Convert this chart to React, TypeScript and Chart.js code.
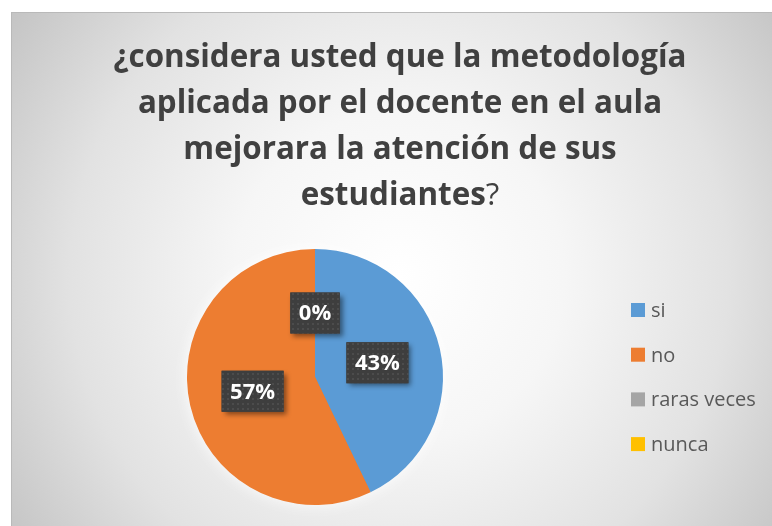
import React, { useEffect, useRef } from "react";
import { Chart, registerables } from "chart.js";

Chart.register(...registerables);

const categories = ["si", "no", "raras veces", "nunca"];
const counts = [3, 4, 0, 0];
const sliceColors = ["#5B9BD5", "#ED7D31", "#A5A5A5", "#FFC000"];
const titleLines: { text: string; bold: boolean }[][] = [
  [{ text: "¿considera usted que la metodología", bold: true }],
  [{ text: "aplicada por el docente en el aula", bold: true }],
  [{ text: "mejorara la atención de sus", bold: true }],
  [
    { text: "estudiantes", bold: true },
    { text: "?", bold: false },
  ],
];

const W = 777;
const H = 530;
const FONT = '"Open Sans", "DejaVu Sans", sans-serif';

function makePattern(ctx: CanvasRenderingContext2D) {
  const c = document.createElement("canvas");
  c.width = 5;
  c.height = 5;
  const p = c.getContext("2d")!;
  p.fillStyle = "#3e3e3e";
  p.fillRect(0, 0, 5, 5);
  p.fillStyle = "#4c4c4c";
  p.fillRect(1, 1, 2, 2);
  return ctx.createPattern(c, "repeat");
}

const bgPlugin = {
  id: "bg",
  beforeDraw(chart: any) {
    const ctx: CanvasRenderingContext2D = chart.ctx;
    ctx.save();
    const cx = W / 2;
    const cy = H / 2;
    const r = Math.sqrt(cx * cx + cy * cy);
    const g = ctx.createRadialGradient(cx, cy, 0, cx, cy, r);
    g.addColorStop(0, "#ffffff");
    g.addColorStop(0.35, "#f6f6f6");
    g.addColorStop(0.7, "#e2e2e2");
    g.addColorStop(1, "#c4c4c4");
    ctx.fillStyle = g;
    ctx.fillRect(0, 0, W, H);
    ctx.strokeStyle = "#b9b9b9";
    ctx.lineWidth = 1;
    ctx.strokeRect(0.5, 0.5, W + 10, H + 10);

    // title
    const targetWidth = 573;
    ctx.font = `bold 30px ${FONT}`;
    const m = ctx.measureText(titleLines[0].map((s) => s.text).join("")).width;
    const size = (30 * targetWidth) / m;
    const centerX = 389;
    const baselines = [55, 101, 147, 193];
    ctx.fillStyle = "#404040";
    ctx.textBaseline = "alphabetic";
    titleLines.forEach((line, i) => {
      let total = 0;
      line.forEach((s) => {
        ctx.font = `${s.bold ? "bold " : ""}${size}px ${FONT}`;
        total += ctx.measureText(s.text).width;
      });
      let x = centerX - total / 2;
      line.forEach((s) => {
        ctx.font = `${s.bold ? "bold " : ""}${size}px ${FONT}`;
        ctx.textAlign = "left";
        ctx.fillText(s.text, x, baselines[i]);
        x += ctx.measureText(s.text).width;
      });
    });

    // legend
    const labels: string[] = chart.data.labels;
    const colors: string[] = chart.data.datasets[0].backgroundColor;
    ctx.font = `20px ${FONT}`;
    labels.forEach((lab, i) => {
      const base = 305 + i * 44.7;
      ctx.fillStyle = colors[i];
      ctx.fillRect(620, base - 14, 14, 14);
      ctx.fillStyle = "#595959";
      ctx.textAlign = "left";
      ctx.fillText(lab, 640, base);
    });
    ctx.restore();
  },
};

const pieFx = {
  id: "pieFx",
  beforeDatasetsDraw(chart: any) {
    const ctx: CanvasRenderingContext2D = chart.ctx;
    const meta = chart.getDatasetMeta(0);
    const a = meta.data[0];
    if (!a) return;
    const { x, y, outerRadius } = a.getProps(["x", "y", "outerRadius"], true);
    ctx.save();
    ctx.shadowColor = "rgba(255,255,255,0.95)";
    ctx.shadowBlur = 16;
    ctx.fillStyle = "#ED7D31";
    ctx.beginPath();
    ctx.arc(x, y, outerRadius - 1, 0, Math.PI * 2);
    ctx.fill();
    ctx.restore();
  },
  afterDatasetsDraw(chart: any) {
    const ctx: CanvasRenderingContext2D = chart.ctx;
    const meta = chart.getDatasetMeta(0);
    const data: number[] = chart.data.datasets[0].data;
    const total = data.reduce((a, b) => a + b, 0);
    const pattern = makePattern(ctx);
    const done: string[] = [];
    ctx.save();
    ctx.font = `bold 22px ${FONT}`;
    meta.data.forEach((arc: any, i: number) => {
      const pt = arc.getCenterPoint();
      const key = `${Math.round(pt.x)},${Math.round(pt.y)}`;
      if (done.includes(key)) return;
      done.push(key);
      const txt = `${Math.round((data[i] / total) * 100)}%`;
      const tw = ctx.measureText(txt).width;
      const bw = tw + 17;
      const bh = 41;
      const x0 = pt.x - bw / 2;
      const y0 = pt.y - bh / 2;
      ctx.save();
      ctx.shadowColor = "rgba(0,0,0,0.45)";
      ctx.shadowBlur = 5;
      ctx.shadowOffsetX = 3;
      ctx.shadowOffsetY = 3;
      ctx.fillStyle = "#3e3e3e";
      ctx.fillRect(x0, y0, bw, bh);
      ctx.restore();
      if (pattern) {
        ctx.fillStyle = pattern;
        ctx.fillRect(x0, y0, bw, bh);
      }
      ctx.fillStyle = "#ffffff";
      ctx.textAlign = "center";
      ctx.textBaseline = "middle";
      ctx.fillText(txt, pt.x, pt.y + 1);
    });
    ctx.restore();
  },
};

export default function App() {
  const ref = useRef<HTMLCanvasElement>(null);
  useEffect(() => {
    const chart = new Chart(ref.current!, {
      type: "pie",
      data: {
        labels: categories,
        datasets: [
          {
            data: counts,
            backgroundColor: sliceColors,
            borderWidth: 0,
          },
        ],
      },
      options: {
        animation: false,
        responsive: false,
        layout: { padding: { left: 176, right: 345, top: 237, bottom: 37 } },
        plugins: {
          legend: { display: false },
          title: { display: false },
          tooltip: { enabled: false },
        },
      },
      plugins: [bgPlugin, pieFx],
    });
    return () => chart.destroy();
  }, []);
  return (
    <div style={{ position: "fixed", left: 0, top: 0, width: "100vw", height: "100vh", overflow: "hidden", background: "#fff" }}>
      <canvas ref={ref} width={W} height={H} style={{ position: "absolute", left: 11, top: 12, width: W, height: H }} />
    </div>
  );
}
